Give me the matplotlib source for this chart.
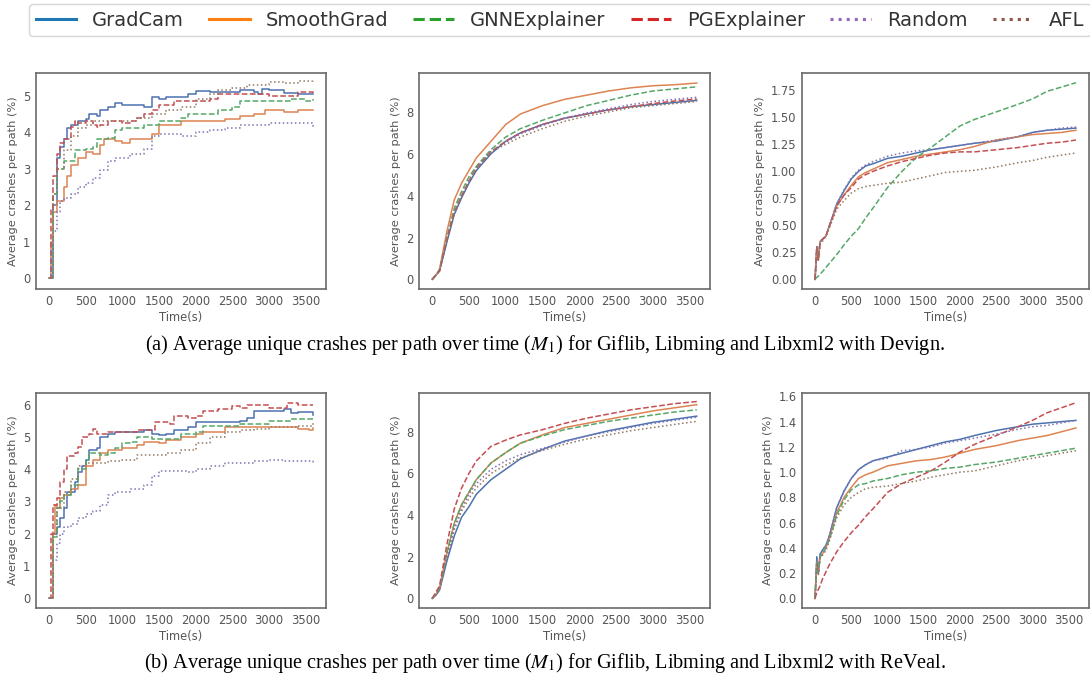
import matplotlib
matplotlib.use("Agg")
import matplotlib.pyplot as plt
from matplotlib.lines import Line2D

methods = ["GradCam", "SmoothGrad", "GNNExplainer", "PGExplainer", "Random", "AFL"]
legend_colors = ["#1f77b4", "#ff7f0e", "#2ca02c", "#d62728", "#9467bd", "#8c564b"]
line_colors = ["#4C72B0", "#DD8452", "#55A868", "#C44E52", "#8172B3", "#937860"]
styles = ["-", "-", "--", "--", ":", ":"]

# ---------------- (a) Devign ----------------
# Giflib (Devign)
a1_gradcam_t = [0, 50, 100, 150, 200, 250, 300, 400, 500, 550, 650, 700, 800, 900, 1000, 1100, 1300, 1400, 1500, 1600, 1800, 1900, 2000, 2200, 2500, 2600, 2800, 2850, 2900, 3000, 3200, 3400, 3600]
a1_gradcam = [0, 2.0, 3.3, 3.6, 3.8, 4.1, 4.2, 4.3, 4.35, 4.5, 4.45, 4.6, 4.7, 4.8, 4.75, 4.75, 4.7, 4.95, 4.9, 4.95, 4.95, 5.05, 5.13, 5.1, 5.1, 5.15, 5.1, 5.05, 5.18, 5.15, 5.08, 5.05, 5.05]
a1_smooth_t = [0, 20, 50, 100, 200, 250, 300, 400, 500, 600, 700, 750, 900, 1000, 1100, 1350, 1400, 1500, 1700, 1800, 2000, 2200, 2400, 2600, 2800, 2950, 3200, 3400, 3600]
a1_smooth = [0, 1.0, 1.8, 2.1, 2.5, 2.8, 3.1, 3.3, 3.45, 3.4, 3.65, 3.8, 3.75, 3.7, 3.8, 3.8, 3.95, 4.2, 4.2, 4.3, 4.3, 4.3, 4.35, 4.45, 4.5, 4.6, 4.55, 4.6, 4.6]
a1_gnn_t = [0, 50, 100, 200, 300, 350, 500, 600, 650, 800, 900, 1000, 1200, 1300, 1500, 1650, 1800, 1900, 2200, 2300, 2500, 2600, 3000, 3300, 3500, 3600]
a1_gnn = [0, 2.3, 3.0, 3.2, 3.2, 3.5, 3.55, 3.6, 3.8, 3.85, 4.05, 4.1, 4.1, 4.2, 4.3, 4.3, 4.4, 4.5, 4.5, 4.6, 4.7, 4.85, 4.85, 4.9, 4.85, 4.9]
a1_pg_t = [0, 20, 50, 100, 150, 200, 300, 350, 400, 500, 600, 650, 700, 800, 900, 1000, 1100, 1200, 1300, 1400, 1500, 1700, 2000, 2200, 2300, 2500, 3000, 3300, 3400, 3600]
a1_pg = [0, 1.9, 2.8, 3.4, 3.7, 3.8, 4.15, 4.3, 4.25, 4.3, 4.2, 4.15, 4.2, 4.3, 4.3, 4.25, 4.3, 4.4, 4.5, 4.6, 4.75, 4.85, 4.85, 4.9, 5.05, 5.05, 5.0, 5.0, 5.1, 5.07]
a1_random_t = [0, 20, 50, 100, 150, 200, 300, 400, 500, 600, 700, 800, 900, 1000, 1100, 1300, 1400, 1500, 1800, 2000, 2200, 2400, 2600, 2800, 3000, 3200, 3400, 3600]
a1_random = [0, 0.8, 1.3, 1.8, 2.1, 2.2, 2.3, 2.5, 2.6, 2.75, 2.95, 3.2, 3.3, 3.3, 3.4, 3.55, 3.9, 3.95, 3.9, 4.0, 4.05, 4.1, 4.2, 4.2, 4.25, 4.25, 4.25, 4.15]
a1_afl_t = [0, 50, 100, 200, 300, 400, 500, 600, 800, 1000, 1200, 1400, 1600, 1800, 2000, 2200, 2300, 2500, 2700, 2900, 3000, 3200, 3400, 3600]
a1_afl = [0, 2.3, 3.0, 3.5, 3.9, 4.1, 4.2, 4.3, 4.3, 4.3, 4.4, 4.5, 4.6, 4.7, 4.9, 5.05, 5.15, 5.2, 5.3, 5.3, 5.38, 5.35, 5.4, 5.45]

# Libming (Devign)
lib_t = [0, 50, 100, 200, 300, 400, 500, 600, 800, 1000, 1200, 1500, 1800, 2100, 2400, 2700, 3000, 3300, 3600]
a2_gradcam = [0, 0.2, 0.4, 1.8, 3.1, 3.9, 4.6, 5.2, 6.0, 6.6, 7.0, 7.4, 7.7, 7.9, 8.1, 8.25, 8.35, 8.45, 8.55]
a2_smooth = [0, 0.2, 0.5, 2.3, 3.8, 4.6, 5.2, 5.8, 6.6, 7.4, 7.9, 8.3, 8.6, 8.8, 9.0, 9.15, 9.25, 9.3, 9.38]
a2_gnn = [0, 0.2, 0.45, 2.0, 3.4, 4.2, 4.9, 5.4, 6.2, 6.8, 7.2, 7.6, 7.95, 8.3, 8.55, 8.8, 9.0, 9.1, 9.2]
a2_pg = [0, 0.2, 0.4, 1.9, 3.2, 4.0, 4.7, 5.3, 6.1, 6.6, 7.0, 7.4, 7.7, 7.9, 8.1, 8.25, 8.4, 8.52, 8.62]
a2_random = [0, 0.2, 0.4, 1.9, 3.2, 4.0, 4.7, 5.3, 6.1, 6.55, 6.95, 7.35, 7.7, 7.95, 8.15, 8.35, 8.5, 8.6, 8.7]
a2_afl = [0, 0.2, 0.4, 1.9, 3.2, 4.0, 4.7, 5.3, 6.1, 6.45, 6.8, 7.2, 7.55, 7.8, 8.0, 8.2, 8.3, 8.4, 8.5]

# Libxml2 (Devign)
xml_t = [0, 25, 45, 70, 100, 150, 200, 300, 400, 500, 600, 700, 800, 1000, 1200, 1400, 1600, 1800, 2000, 2200, 2500, 2800, 3000, 3200, 3400, 3600]
a3_gradcam = [0, 0.3, 0.18, 0.35, 0.37, 0.4, 0.5, 0.7, 0.82, 0.93, 1.0, 1.05, 1.07, 1.12, 1.14, 1.17, 1.2, 1.22, 1.24, 1.26, 1.28, 1.32, 1.36, 1.38, 1.39, 1.4]
a3_smooth = [0, 0.3, 0.18, 0.35, 0.37, 0.4, 0.5, 0.68, 0.78, 0.87, 0.95, 0.99, 1.02, 1.08, 1.11, 1.14, 1.16, 1.18, 1.2, 1.23, 1.29, 1.32, 1.34, 1.35, 1.36, 1.38]
a3_gnn = [0, 0.02, 0.03, 0.05, 0.07, 0.11, 0.15, 0.23, 0.32, 0.4, 0.47, 0.57, 0.66, 0.85, 1.0, 1.13, 1.22, 1.32, 1.42, 1.48, 1.55, 1.62, 1.67, 1.74, 1.78, 1.82]
a3_pg = [0, 0.3, 0.18, 0.35, 0.37, 0.4, 0.5, 0.68, 0.78, 0.85, 0.93, 0.97, 1.0, 1.05, 1.09, 1.12, 1.15, 1.17, 1.18, 1.18, 1.2, 1.22, 1.24, 1.26, 1.27, 1.29]
a3_random = [0, 0.3, 0.18, 0.35, 0.37, 0.4, 0.5, 0.7, 0.83, 0.94, 1.01, 1.06, 1.09, 1.14, 1.17, 1.19, 1.2, 1.22, 1.24, 1.26, 1.29, 1.32, 1.36, 1.38, 1.4, 1.41]
a3_afl = [0, 0.3, 0.18, 0.33, 0.35, 0.4, 0.48, 0.65, 0.73, 0.8, 0.84, 0.86, 0.87, 0.89, 0.9, 0.93, 0.96, 0.99, 1.0, 1.01, 1.04, 1.08, 1.1, 1.13, 1.15, 1.17]

# ---------------- (b) ReVeal ----------------
# Giflib (ReVeal)
b1_gradcam_t = [0, 50, 100, 150, 200, 250, 350, 400, 450, 500, 550, 650, 700, 800, 900, 1100, 1300, 1400, 1500, 1600, 1700, 1900, 2000, 2400, 2600, 2700, 2800, 3000, 3200, 3300, 3400, 3600]
b1_gradcam = [0, 2.0, 2.2, 2.5, 2.8, 3.3, 3.6, 3.9, 4.1, 4.3, 4.6, 4.65, 5.0, 5.1, 5.15, 5.15, 5.2, 5.1, 5.05, 5.1, 5.2, 5.3, 5.45, 5.45, 5.5, 5.6, 5.8, 5.8, 5.85, 5.75, 5.78, 5.68]
b1_smooth_t = [0, 50, 80, 100, 150, 200, 300, 400, 500, 600, 700, 800, 900, 1000, 1200, 1300, 1500, 1600, 1700, 1800, 2000, 2100, 2300, 2400, 2600, 3000, 3400, 3550, 3600]
b1_smooth = [0, 2.0, 2.9, 2.8, 3.1, 3.2, 3.4, 3.5, 4.1, 4.3, 4.5, 4.6, 4.6, 4.65, 4.75, 4.85, 4.8, 4.9, 4.9, 5.0, 5.1, 5.15, 5.15, 5.3, 5.3, 5.3, 5.25, 5.22, 5.28]
b1_gnn_t = [0, 50, 100, 150, 200, 300, 400, 500, 550, 700, 800, 900, 1000, 1100, 1200, 1400, 1600, 1800, 2000, 2100, 2400, 2600, 2800, 3000, 3200, 3300, 3600]
b1_gnn = [0, 1.9, 2.8, 3.0, 3.2, 3.5, 4.0, 4.3, 4.5, 4.45, 4.5, 4.65, 4.8, 4.85, 5.0, 4.95, 4.95, 5.1, 5.15, 5.35, 5.35, 5.4, 5.4, 5.5, 5.5, 5.55, 5.55]
b1_pg_t = [0, 20, 50, 100, 150, 200, 250, 350, 400, 450, 550, 600, 650, 800, 1000, 1200, 1400, 1450, 1650, 1700, 1900, 2000, 2100, 2300, 2500, 2600, 2700, 2900, 3000, 3100, 3250, 3400, 3600]
b1_pg = [0, 2.0, 2.9, 3.1, 3.6, 4.0, 4.4, 4.5, 4.7, 5.0, 5.1, 5.25, 5.1, 5.15, 5.15, 5.2, 5.2, 5.45, 5.4, 5.65, 5.6, 5.65, 5.8, 5.85, 5.95, 5.9, 6.0, 6.0, 5.9, 5.9, 6.05, 6.0, 6.0]
b1_random_t = [0, 50, 100, 150, 200, 300, 400, 500, 600, 700, 800, 900, 1000, 1100, 1300, 1400, 1500, 1700, 1900, 2000, 2200, 2400, 2600, 2800, 3000, 3200, 3400, 3600]
b1_random = [0, 1.2, 1.7, 2.0, 2.2, 2.3, 2.5, 2.6, 2.7, 2.9, 3.2, 3.3, 3.3, 3.4, 3.5, 3.8, 3.95, 3.95, 3.9, 4.0, 4.1, 4.2, 4.2, 4.25, 4.3, 4.25, 4.25, 4.15]
b1_afl_t = [0, 50, 100, 200, 300, 400, 500, 600, 700, 800, 1000, 1200, 1400, 1600, 1800, 2000, 2200, 2400, 2600, 2800, 3000, 3200, 3400, 3600]
b1_afl = [0, 2.0, 2.8, 3.3, 3.7, 4.1, 4.2, 4.2, 4.2, 4.25, 4.3, 4.45, 4.45, 4.5, 4.6, 4.8, 5.0, 5.15, 5.2, 5.25, 5.3, 5.3, 5.35, 5.45]

# Libming (ReVeal)
b2_gradcam = [0, 0.15, 0.4, 1.8, 3.0, 3.9, 4.4, 5.0, 5.7, 6.2, 6.7, 7.15, 7.55, 7.8, 8.05, 8.25, 8.45, 8.6, 8.75]
b2_smooth = [0, 0.2, 0.5, 2.2, 3.6, 4.5, 5.1, 5.7, 6.5, 7.0, 7.45, 7.85, 8.2, 8.4, 8.6, 8.8, 9.0, 9.15, 9.3]
b2_gnn = [0, 0.2, 0.5, 2.2, 3.6, 4.5, 5.1, 5.7, 6.5, 7.0, 7.45, 7.8, 8.1, 8.3, 8.5, 8.65, 8.8, 8.95, 9.05]
b2_pg = [0, 0.3, 0.6, 2.6, 4.3, 5.3, 6.0, 6.6, 7.3, 7.6, 7.85, 8.1, 8.4, 8.65, 8.85, 9.05, 9.2, 9.35, 9.45]
b2_random = [0, 0.2, 0.45, 2.0, 3.4, 4.3, 5.0, 5.5, 6.2, 6.6, 6.9, 7.2, 7.5, 7.8, 8.0, 8.2, 8.4, 8.55, 8.7]
b2_afl = [0, 0.2, 0.45, 2.0, 3.3, 4.2, 4.8, 5.3, 6.0, 6.4, 6.75, 7.1, 7.4, 7.65, 7.85, 8.05, 8.2, 8.35, 8.5]

# Libxml2 (ReVeal)
b3_gradcam = [0, 0.33, 0.2, 0.35, 0.38, 0.42, 0.5, 0.72, 0.85, 0.95, 1.02, 1.06, 1.09, 1.12, 1.15, 1.18, 1.21, 1.24, 1.26, 1.29, 1.33, 1.36, 1.38, 1.39, 1.4, 1.41]
b3_smooth = [0, 0.3, 0.2, 0.33, 0.35, 0.4, 0.48, 0.68, 0.8, 0.88, 0.95, 0.98, 1.0, 1.05, 1.07, 1.09, 1.1, 1.12, 1.15, 1.18, 1.21, 1.25, 1.27, 1.29, 1.32, 1.35]
b3_gnn = [0, 0.3, 0.2, 0.33, 0.35, 0.4, 0.47, 0.66, 0.78, 0.86, 0.9, 0.91, 0.93, 0.95, 0.98, 1.0, 1.01, 1.03, 1.04, 1.06, 1.08, 1.11, 1.13, 1.15, 1.17, 1.19]
b3_pg = [0, 0.05, 0.07, 0.1, 0.15, 0.21, 0.27, 0.37, 0.45, 0.52, 0.58, 0.65, 0.71, 0.84, 0.91, 0.96, 1.01, 1.08, 1.16, 1.22, 1.29, 1.36, 1.41, 1.47, 1.51, 1.55]
b3_random = [0, 0.3, 0.2, 0.35, 0.38, 0.42, 0.5, 0.72, 0.85, 0.95, 1.02, 1.06, 1.09, 1.11, 1.17, 1.18, 1.2, 1.23, 1.25, 1.27, 1.3, 1.34, 1.36, 1.37, 1.39, 1.41]
b3_afl = [0, 0.28, 0.18, 0.32, 0.34, 0.38, 0.46, 0.64, 0.74, 0.8, 0.84, 0.87, 0.88, 0.89, 0.91, 0.93, 0.96, 0.98, 1.0, 1.01, 1.05, 1.09, 1.11, 1.13, 1.15, 1.17]

captions = [
    "(a) Average unique crashes per path over time ($M_1$) for Giflib, Libming and Libxml2 with Devign.",
    "(b) Average unique crashes per path over time ($M_1$) for Giflib, Libming and Libxml2 with ReVeal.",
]

panels = [
    (0, 0, [(a1_gradcam_t, a1_gradcam), (a1_smooth_t, a1_smooth), (a1_gnn_t, a1_gnn), (a1_pg_t, a1_pg), (a1_random_t, a1_random), (a1_afl_t, a1_afl)], (-0.3, 5.62), [0, 1, 2, 3, 4, 5], True),
    (0, 1, [(lib_t, a2_gradcam), (lib_t, a2_smooth), (lib_t, a2_gnn), (lib_t, a2_pg), (lib_t, a2_random), (lib_t, a2_afl)], (-0.46, 9.86), [0, 2, 4, 6, 8], False),
    (0, 2, [(xml_t, a3_gradcam), (xml_t, a3_smooth), (xml_t, a3_gnn), (xml_t, a3_pg), (xml_t, a3_random), (xml_t, a3_afl)], (-0.089, 1.91), [0, 0.25, 0.5, 0.75, 1.0, 1.25, 1.5, 1.75], False),
    (1, 0, [(b1_gradcam_t, b1_gradcam), (b1_smooth_t, b1_smooth), (b1_gnn_t, b1_gnn), (b1_pg_t, b1_pg), (b1_random_t, b1_random), (b1_afl_t, b1_afl)], (-0.3, 6.36), [0, 1, 2, 3, 4, 5, 6], True),
    (1, 1, [(lib_t, b2_gradcam), (lib_t, b2_smooth), (lib_t, b2_gnn), (lib_t, b2_pg), (lib_t, b2_random), (lib_t, b2_afl)], (-0.46, 9.86), [0, 2, 4, 6, 8], False),
    (1, 2, [(xml_t, b3_gradcam), (xml_t, b3_smooth), (xml_t, b3_gnn), (xml_t, b3_pg), (xml_t, b3_random), (xml_t, b3_afl)], (-0.076, 1.627), [0, 0.2, 0.4, 0.6, 0.8, 1.0, 1.2, 1.4, 1.6], False),
]

W, H = 1090, 676
fig = plt.figure(figsize=(W / 100, H / 100), dpi=100)
plt.rcParams["mathtext.fontset"] = "stix"

col_left = [36, 419, 802]
col_width = [290, 291, 287]
row_top = [73, 393]
row_h = [216, 215]

xticks = [0, 500, 1000, 1500, 2000, 2500, 3000, 3500]
fmt = {2: "{:.2f}", 5: "{:.1f}"}

for idx, (r, c, series, ylim, yticks, step) in enumerate(panels):
    ax = fig.add_axes([col_left[c] / W, 1 - (row_top[r] + row_h[r]) / H, col_width[c] / W, row_h[r] / H])
    for (t, y), col, ls in zip(series, line_colors, styles):
        ax.plot(t, y, color=col, linestyle=ls, linewidth=1.1,
                drawstyle="steps-post" if step else "default")
    ax.set_xlim(-180, 3780)
    ax.set_ylim(*ylim)
    ax.set_xticks(xticks)
    ax.set_yticks(yticks)
    if idx in fmt:
        ax.set_yticklabels([fmt[idx].format(v) for v in yticks])
    ax.tick_params(length=0, labelsize=8.3, colors="#555555", pad=4)
    ax.set_xlabel("Time(s)", fontsize=8.3, color="#555555", labelpad=2.5)
    ax.set_ylabel("Average crashes per path (%)", fontsize=8.2, color="#555555", labelpad=4)
    for s in ax.spines.values():
        s.set_color("#6a6a6a")
        s.set_linewidth(1.2)

handles = [Line2D([], [], color=c, linestyle=ls, linewidth=2.2) for c, ls in zip(legend_colors, styles)]
leg = fig.legend(handles, methods, loc="center", bbox_to_anchor=(560 / W, 1 - 20 / H), ncol=6,
                 fontsize=14, frameon=True, handlelength=2.1, columnspacing=1.3, handletextpad=0.8,
                 borderpad=0.35, fancybox=True)
leg.get_frame().set_edgecolor("#cccccc")
for txt in leg.get_texts():
    txt.set_color("#333333")

fig.text(545 / W, 1 - 345 / H, captions[0], ha="center", va="center", fontsize=14.6, family="Liberation Serif")
fig.text(545 / W, 1 - 663 / H, captions[1], ha="center", va="center", fontsize=14.6, family="Liberation Serif")

fig.savefig("out.png", dpi=100)
